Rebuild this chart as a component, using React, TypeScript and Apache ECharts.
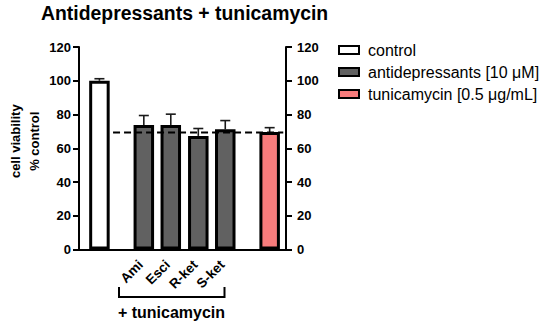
import React, { useEffect, useRef } from "react";
import * as echarts from "echarts";

const FONT = "'Liberation Sans', Arial, Helvetica, sans-serif";

const titleText = "Antidepressants + tunicamycin";
const yAxisTitle = "cell viability\n% control";
const groupLabel = "+ tunicamycin";
const yTicks = [0, 20, 40, 60, 80, 100, 120];

const seriesNames = ["control", "antidepressants [10 μM]", "tunicamycin [0.5 μg/mL]"];

// x positions on a numeric axis (bar slots)
const controlX = [0.75];
const controlMean = [100];
const controlErr = [1.2];

const drugNames = ["Ami", "Esci", "R-ket", "S-ket"];
const drugX = [2.38, 3.37, 4.38, 5.37];
const drugMean = [73.8, 73.8, 67.3, 71.2];
const drugErr = [5.6, 6.4, 4.4, 5.2];

const tuniX = [7.0];
const tuniMean = [69.6];
const tuniErr = [2.6];

const tuniLevel = 69.4;
const tuniLineX = [1.25, 7.5];

export default function App() {
  const ref = useRef<HTMLDivElement>(null);
  useEffect(() => {
    if (!ref.current) return;
    const chart = echarts.init(ref.current, undefined, { renderer: "svg" });

    const errData = [
      ...controlX.map((x, i) => [x, controlMean[i], controlErr[i]]),
      ...drugX.map((x, i) => [x, drugMean[i], drugErr[i]]),
      ...tuniX.map((x, i) => [x, tuniMean[i], tuniErr[i]]),
    ];

    const axisCommon = {
      type: "value",
      min: 0,
      max: 120,
      interval: 20,
      splitLine: { show: false },
      axisLine: { show: true, onZero: false, lineStyle: { color: "#000", width: 2 } },
      axisTick: { show: true, length: 6, lineStyle: { color: "#000", width: 2 } },
    };

    const barCommon = {
      type: "bar",
      barWidth: 20.5,
      barGap: "-100%",
      xAxisIndex: 0,
      yAxisIndex: 0,
    };

    chart.setOption({
      animation: false,
      title: {
        text: titleText,
        left: 41,
        top: 3,
        padding: 0,
        textStyle: { fontFamily: FONT, fontWeight: "bold", fontSize: 19.4, color: "#000" },
      },
      legend: {
        orient: "vertical",
        left: 333,
        top: 37,
        itemWidth: 20,
        itemHeight: 8,
        itemGap: 6,
        icon: "rect",
        data: seriesNames,
        itemStyle: { borderWidth: 2, borderColor: "#000" },
        textStyle: { fontFamily: FONT, fontSize: 16, color: "#000", lineHeight: 16, padding: [0, 0, 0, 4] },
      },
      grid: { left: 79, right: 264, top: 47, bottom: 73.5, containLabel: false },
      xAxis: {
        type: "value",
        min: 0,
        max: 7.6,
        splitLine: { show: false },
        axisTick: { show: false },
        axisLabel: { show: false },
        axisLine: { show: true, onZero: false, lineStyle: { color: "#000", width: 2 } },
      },
      yAxis: [
        {
          ...axisCommon,
          position: "left",
          name: yAxisTitle,
          nameLocation: "middle",
          nameRotate: 90,
          nameGap: 35,
          nameTextStyle: {
            fontFamily: FONT,
            fontWeight: "bold",
            fontSize: 13,
            lineHeight: 19,
            color: "#000",
            padding: [0, 0, 0, 14],
          },
          axisLabel: {
            margin: 8,
            fontFamily: FONT,
            fontWeight: "bold",
            fontSize: 13,
            color: "#000",
            customValues: yTicks,
          },
        },
        {
          ...axisCommon,
          position: "right",
          axisLabel: {
            margin: 11,
            fontFamily: FONT,
            fontWeight: "bold",
            fontSize: 13,
            color: "#000",
          },
        },
      ],
      series: [
        {
          ...barCommon,
          name: seriesNames[0],
          data: controlX.map((x, i) => [x, controlMean[i]]),
          itemStyle: { color: "#ffffff", borderColor: "#000", borderWidth: 3 },
        },
        {
          ...barCommon,
          name: seriesNames[1],
          data: drugX.map((x, i) => [x, drugMean[i]]),
          itemStyle: { color: "#616161", borderColor: "#000", borderWidth: 3 },
        },
        {
          ...barCommon,
          name: seriesNames[2],
          data: tuniX.map((x, i) => [x, tuniMean[i]]),
          itemStyle: { color: "#f87c7c", borderColor: "#000", borderWidth: 3 },
        },
        {
          type: "custom",
          name: "err",
          z: 1,
          data: errData,
          encode: { x: 0, y: [1, 2] },
          renderItem: (params: any, api: any) => {
            const x = api.value(0);
            const m = api.value(1);
            const e = api.value(2);
            const p1 = api.coord([x, m]);
            const p2 = api.coord([x, m + e]);
            const style = { stroke: "#1a1a1a", lineWidth: 1.6 };
            return {
              type: "group",
              children: [
                { type: "line", shape: { x1: p1[0], y1: p1[1], x2: p2[0], y2: p2[1] }, style },
                { type: "line", shape: { x1: p2[0] - 5, y1: p2[1], x2: p2[0] + 5, y2: p2[1] }, style },
              ],
            };
          },
        },
        {
          type: "custom",
          name: "labels",
          data: drugX.map((x) => [x, 0]),
          encode: { x: 0, y: 1 },
          renderItem: (params: any, api: any) => {
            const p = api.coord([api.value(0), 0]);
            return {
              type: "text",
              x: p[0] - 3,
              y: p[1] + 13,
              rotation: Math.PI / 4,
              style: {
                text: drugNames[params.dataIndex],
                align: "right",
                verticalAlign: "middle",
                font: `bold 13.5px ${FONT}`,
                fill: "#000",
              },
            };
          },
        },
        {
          type: "line",
          name: "tunicamycin level",
          z: 5,
          symbol: "none",
          data: tuniLineX.map((x) => [x, tuniLevel]),
          lineStyle: { color: "#000", width: 2, type: [7, 4] },
        },
      ],
      graphic: [
        {
          type: "polyline",
          shape: { points: [[119, 287], [119, 297], [224.5, 297], [224.5, 287]] },
          style: { stroke: "#000", lineWidth: 2, fill: "none" },
        },
        {
          type: "text",
          x: 171.5,
          y: 312,
          style: {
            text: groupLabel,
            align: "center",
            verticalAlign: "middle",
            font: `bold 16px ${FONT}`,
            fill: "#000",
          },
        },
      ],
    });
    return () => chart.dispose();
  }, []);
  return (
    <div
      ref={ref}
      style={{ position: "absolute", left: 0, top: 0, width: 550, height: 323, overflow: "hidden" }}
    />
  );
}
